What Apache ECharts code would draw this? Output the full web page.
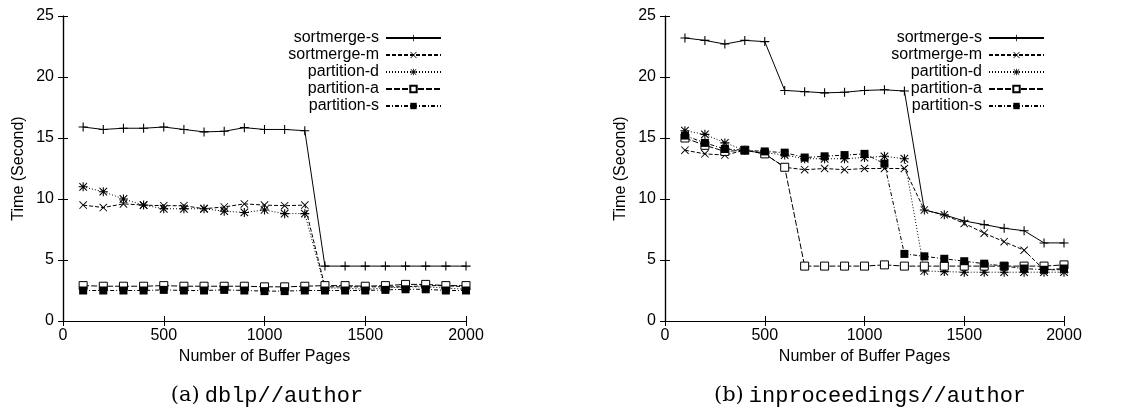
<!DOCTYPE html>
<html lang="en">

<head>
    <meta charset="UTF-8">
    <title>Time vs Buffer Pages</title>
</head>
<style>
    * {
        padding: 0;
        margin: 0;
    }

    .box {
        width: 1134px;
        height: 415px;
    }
</style>

<body>
    <div class="box" id='myChart'></div>
    <script src="https://cdn.jsdelivr.net/npm/echarts@6/dist/echarts.min.js"></script>
    <script>
        // buffer pages (x values), same for both panels
        const pages = [100, 200, 300, 400, 500, 600, 700, 800, 900, 1000,
            1100, 1200, 1300, 1400, 1500, 1600, 1700, 1800, 1900, 2000];
        const seriesNames = ["sortmerge-s", "sortmerge-m", "partition-d", "partition-a", "partition-s"];
        const xTicks = [0, 500, 1000, 1500, 2000];
        const yTicks = [0, 5, 10, 15, 20, 25];

        // (a) dblp//author
        const dblpSortmergeS = [15.9, 15.7, 15.8, 15.8, 15.9, 15.7, 15.5, 15.55, 15.85, 15.7, 15.7, 15.6, 4.5, 4.5, 4.5, 4.5, 4.5, 4.5, 4.5, 4.5];
        const dblpSortmergeM = [9.5, 9.3, 9.6, 9.5, 9.45, 9.45, 9.2, 9.35, 9.6, 9.5, 9.45, 9.5, 2.8, 2.8, 2.8, 2.8, 2.8, 2.9, 2.9, 2.8];
        const dblpPartitionD = [11.0, 10.6, 10.0, 9.5, 9.2, 9.2, 9.2, 9.0, 8.9, 9.1, 8.8, 8.8, 2.7, 2.7, 2.6, 2.7, 2.8, 2.8, 2.7, 2.6];
        const dblpPartitionA = [2.9, 2.85, 2.85, 2.85, 2.9, 2.85, 2.85, 2.85, 2.85, 2.8, 2.8, 2.85, 2.9, 2.9, 2.85, 2.9, 3.0, 3.0, 2.9, 2.9];
        const dblpPartitionS = [2.5, 2.5, 2.5, 2.5, 2.55, 2.5, 2.5, 2.55, 2.5, 2.45, 2.45, 2.5, 2.5, 2.5, 2.5, 2.55, 2.6, 2.6, 2.5, 2.5];

        // (b) inproceedings//author
        const inprSortmergeS = [23.2, 23.0, 22.7, 23.0, 22.9, 18.9, 18.8, 18.7, 18.75, 18.9, 18.95, 18.85, 9.1, 8.7, 8.2, 7.9, 7.6, 7.4, 6.4, 6.4];
        const inprSortmergeM = [14.0, 13.7, 13.6, 14.0, 13.7, 12.6, 12.4, 12.5, 12.4, 12.5, 12.5, 12.5, 9.1, 8.7, 8.0, 7.2, 6.5, 5.8, 4.2, 4.2];
        const inprPartitionD = [15.6, 15.3, 14.6, 14.0, 13.8, 13.6, 13.3, 13.3, 13.3, 13.4, 13.5, 13.3, 4.1, 4.05, 4.0, 4.0, 4.0, 4.0, 4.0, 4.0];
        const inprPartitionA = [15.0, 14.4, 13.9, 14.0, 13.7, 12.6, 4.5, 4.5, 4.5, 4.5, 4.6, 4.5, 4.5, 4.5, 4.5, 4.5, 4.5, 4.5, 4.5, 4.6];
        const inprPartitionS = [15.2, 14.6, 14.1, 14.0, 13.9, 13.8, 13.4, 13.5, 13.6, 13.7, 12.9, 5.5, 5.3, 5.1, 4.9, 4.7, 4.5, 4.3, 4.2, 4.3];

        const font = "Liberation Sans";
        const plus = "path://M0,4.4H10V5.6H0Z M4.4,0H5.6V10H4.4Z";
        const cross = "path://M0.8,0L10,9.2L9.2,10L0,0.8Z M9.2,0L10,0.8L0.8,10L0,9.2Z";
        const star = "path://M0,4.4H10V5.6H0Z M4.4,0H5.6V10H4.4Z M1.2,0.4L9.6,8.8L8.8,9.6L0.4,1.2Z M8.8,0.4L9.6,1.2L1.2,9.6L0.4,8.8Z";

        const styles = [
            { symbol: plus, size: 9, fill: "#000", dash: "solid" },
            { symbol: cross, size: 8, fill: "#000", dash: [4, 2] },
            { symbol: star, size: 9, fill: "#000", dash: [1, 2] },
            { symbol: "rect", size: 8, fill: "#fff", dash: [6, 2] },
            { symbol: "rect", size: 8, fill: "#000", dash: [4, 2, 1, 2] },
        ];

        function pairs(vals) {
            return pages.map((p, i) => [p, vals[i]]);
        }

        function makeSeries(panel, lists) {
            return lists.map((vals, k) => ({
                name: seriesNames[k],
                type: "line",
                xAxisIndex: panel * 2,
                yAxisIndex: panel * 2,
                symbol: styles[k].symbol,
                symbolSize: styles[k].size,
                showAllSymbol: true,
                itemStyle: { color: styles[k].fill, borderColor: "#000", borderWidth: styles[k].fill === "#fff" ? 1 : 0 },
                lineStyle: { color: "#000", width: 1, type: styles[k].dash },
                data: pairs(vals),
            }));
        }

        const grids = [
            { left: 63, right: 668, top: 16, bottom: 94 },
            { left: 665, right: 70, top: 16, bottom: 94 },
        ];

        let xAxes = [], yAxes = [];
        grids.forEach((g, gi) => {
            xAxes.push({
                type: "value", gridIndex: gi, min: 0, max: 2000, interval: 500,
                name: "Number of Buffer Pages", nameLocation: "middle", nameGap: 23,
                nameTextStyle: { fontFamily: font, fontSize: 16, color: "#000" },
                axisLine: { lineStyle: { color: "#000", width: 1.2 } },
                axisTick: { inside: true, length: 5, lineStyle: { color: "#000" } },
                axisLabel: { fontFamily: font, fontSize: 16, color: "#000", margin: 7,
                    formatter: v => xTicks.includes(v) ? String(v) : "" },
                splitLine: { show: false },
            });
            xAxes.push({
                type: "value", gridIndex: gi, min: 0, max: 2000, interval: 500, position: "top",
                axisLine: { lineStyle: { color: "#000", width: 1.2 } },
                axisTick: { inside: true, length: 5, lineStyle: { color: "#000" } },
                axisLabel: { show: false }, splitLine: { show: false },
            });
            yAxes.push({
                type: "value", gridIndex: gi, min: 0, max: 25, interval: 5,
                name: "Time (Second)", nameLocation: "middle", nameGap: 36,
                nameTextStyle: { fontFamily: font, fontSize: 16, color: "#000" },
                axisLine: { show: true, lineStyle: { color: "#000", width: 1.2 } },
                axisTick: { show: true, inside: true, length: 5, lineStyle: { color: "#000" } },
                axisLabel: { fontFamily: font, fontSize: 16, color: "#000", margin: 9,
                    formatter: v => yTicks.includes(v) ? String(v) : "" },
                splitLine: { show: false },
            });
            yAxes.push({
                type: "value", gridIndex: gi, min: 0, max: 25, interval: 5, position: "right",
                axisLine: { show: true, lineStyle: { color: "#000", width: 1.2 } },
                axisTick: { show: true, inside: true, length: 5, lineStyle: { color: "#000" } },
                axisLabel: { show: false }, splitLine: { show: false },
            });
        });

        function legendAt(right) {
            return {
                data: seriesNames,
                orient: "vertical",
                right: right,
                top: 25,
                align: "right",
                itemWidth: 55,
                itemHeight: 8,
                itemGap: 1,
                selectedMode: false,
                textStyle: { fontFamily: font, fontSize: 16, color: "#000", lineHeight: 16, padding: [0, 2, 0, 0] },
            };
        }

        function caption(label, name, center) {
            return {
                text: "{a|" + label + "} {b|" + name + "}",
                left: center,
                textAlign: "center",
                top: 380,
                textStyle: {
                    fontWeight: "normal",
                    rich: {
                        a: { fontFamily: "DejaVu Serif", fontSize: 21, fontWeight: "normal", color: "#000" },
                        b: { fontFamily: "Liberation Mono", fontSize: 22, fontWeight: "normal", color: "#000" },
                    },
                },
            };
        }

        let myChart = echarts.init(document.getElementById('myChart'));
        let option = {
            backgroundColor: "#ffffff",
            animation: false,
            title: [
                caption("(a)", "dblp//author", 262),
                caption("(b)", "inproceedings//author", 865),
            ],
            legend: [legendAt(687), legendAt(84)],
            grid: grids,
            xAxis: xAxes,
            yAxis: yAxes,
            series: makeSeries(0, [dblpSortmergeS, dblpSortmergeM, dblpPartitionD, dblpPartitionA, dblpPartitionS])
                .concat(makeSeries(1, [inprSortmergeS, inprSortmergeM, inprPartitionD, inprPartitionA, inprPartitionS])),
        };
        myChart.setOption(option, true);
    </script>

</body>

</html>
